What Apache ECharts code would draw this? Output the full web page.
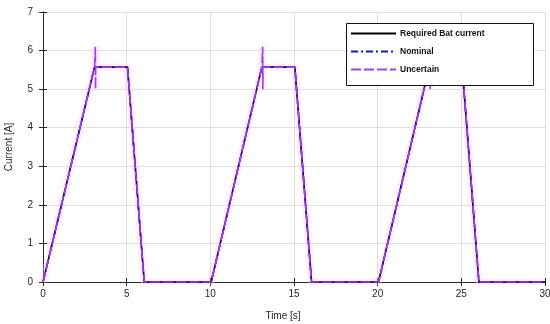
<!DOCTYPE html>
<html>
<head>
<meta charset="utf-8">
<script src="https://cdn.jsdelivr.net/npm/echarts@6/dist/echarts.min.js"></script>
<style>html,body{margin:0;padding:0;background:#fff;}#c{width:550px;height:324px;}</style>
</head>
<body>
<div id="c"></div>
<script>
// Time points [s] and currents [A]
var reqTime = [0, 3.08, 5.05, 6.05, 10.05, 13.08, 15.05, 16.05, 20.05, 23.08, 25.05, 26.05, 30];
var reqCurrent = [0, 5.57, 5.57, 0, 0, 5.57, 5.57, 0, 0, 5.57, 5.57, 0, 0];
var nomTime = [0, 3.08, 5.05, 6.05, 10.05, 13.08, 15.05, 16.05, 20.05, 23.08, 25.05, 26.05, 30];
var nomCurrent = [0, 5.57, 5.57, 0, 0, 5.57, 5.57, 0, 0, 5.57, 5.57, 0, 0];
var uncTime = [0, 3.08, 3.13, 3.13, 3.14, 3.15, 5.05, 6.05, 10.05, 13.08, 13.13, 13.13, 13.14, 13.15, 15.05, 16.05, 20.05, 23.08, 23.13, 23.13, 23.14, 23.15, 25.05, 26.05, 30];
var uncCurrent = [0, 5.57, 5.57, 6.1, 5.0, 5.57, 5.57, 0, 0, 5.57, 5.57, 6.1, 5.0, 5.57, 5.57, 0, 0, 5.57, 5.57, 6.1, 5.0, 5.57, 5.57, 0, 0];
var xTicks = [0, 5, 10, 15, 20, 25, 30];
var yTicks = [0, 1, 2, 3, 4, 5, 6, 7];

function pairs(t, v) { return t.map(function (x, i) { return [x, v[i]]; }); }

var chart = echarts.init(document.getElementById('c'), null, {renderer: 'canvas'});
var axCol = '#262626';
var font = 'Liberation Sans, Arial, sans-serif';
var option = {
  animation: false,
  backgroundColor: '#fff',
  grid: {left: 43, right: 5, top: 12, bottom: 42, containLabel: false, outerBoundsMode: 'none'},
  xAxis: [{
    type: 'value', min: xTicks[0], max: xTicks[xTicks.length - 1], interval: 5,
    name: 'Time [s]', nameLocation: 'middle', nameGap: 29,
    nameTextStyle: {color: axCol, fontSize: 10, fontFamily: font, padding: [0, 22, 0, 0]},
    axisLine: {lineStyle: {color: axCol, width: 1}},
    axisTick: {inside: true, length: 4, lineStyle: {color: axCol}},
    axisLabel: {color: axCol, fontSize: 10, fontFamily: font, margin: 7},
    splitLine: {show: true, lineStyle: {color: '#dedede', width: 1}}
  }, {
    type: 'value', position: 'top', min: 0, max: 30, interval: 5,
    axisLine: {show: true, lineStyle: {color: axCol, width: 1}},
    axisTick: {show: true, inside: true, length: 4, lineStyle: {color: axCol}},
    axisLabel: {show: false}, splitLine: {show: false}
  }],
  yAxis: [{
    type: 'value', min: yTicks[0], max: yTicks[yTicks.length - 1], interval: 1,
    name: 'Current [A]', nameLocation: 'middle', nameGap: 29,
    nameTextStyle: {color: axCol, fontSize: 10, fontFamily: font},
    axisLine: {show: true, lineStyle: {color: axCol, width: 1}},
    axisTick: {show: true, inside: true, length: 4, lineStyle: {color: axCol}},
    axisLabel: {color: axCol, fontSize: 10, fontFamily: font, margin: 10},
    splitLine: {show: true, lineStyle: {color: '#dedede', width: 1}}
  }, {
    type: 'value', position: 'right', min: 0, max: 7, interval: 1,
    axisLine: {show: true, lineStyle: {color: axCol, width: 1}},
    axisTick: {show: true, inside: true, length: 4, lineStyle: {color: axCol}},
    axisLabel: {show: false}, splitLine: {show: false}
  }],
  legend: {
    orient: 'vertical', left: 350, top: 29, itemWidth: 45, itemHeight: 10, itemGap: 9,
    padding: 0, z: 5,
    itemStyle: {opacity: 0},
    data: ['Required Bat current', 'Nominal', 'Uncertain'],
    textStyle: {color: '#111', fontSize: 8.5, fontFamily: font, fontWeight: 'bold', padding: [0, 0, 0, -1]}
  },
  graphic: [{
    type: 'rect', z: 4, silent: true,
    shape: {x: 346.5, y: 23.5, width: 187, height: 62},
    style: {fill: '#fff', stroke: '#111', lineWidth: 1}
  }],
  series: [{
    name: 'band', type: 'line', data: pairs(uncTime, uncCurrent), symbol: 'none',
    lineStyle: {color: 'rgba(255,200,245,0.35)', width: 7}, z: 1, silent: true
  }, {
    name: 'Required Bat current', type: 'line', data: pairs(reqTime, reqCurrent), symbol: 'none',
    lineStyle: {color: '#000', width: 1.6, type: 'solid'}, itemStyle: {color: '#000'}, z: 2
  }, {
    name: 'Nominal', type: 'line', data: pairs(nomTime, nomCurrent), symbol: 'none',
    lineStyle: {color: '#1414c8', width: 1.5, type: [7, 3, 2, 3]}, itemStyle: {color: '#1414c8'}, z: 2
  }, {
    name: 'Uncertain', type: 'line', data: pairs(uncTime, uncCurrent), symbol: 'none',
    lineStyle: {color: '#a040e8', width: 1.6, type: [10, 3]}, itemStyle: {color: '#a040e8'}, z: 3
  }]
};
chart.setOption(option);
</script>
</body>
</html>
